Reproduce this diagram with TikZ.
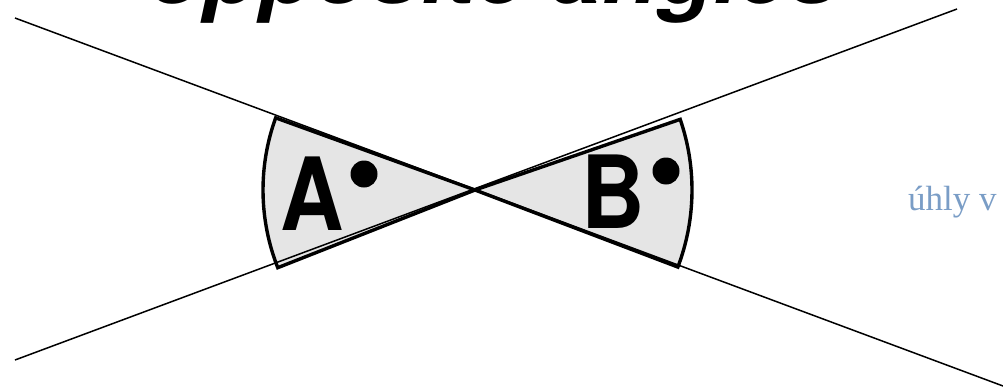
\documentclass[tikz,border=0pt]{standalone}
\usepackage{fontspec}
\usepackage{graphicx}
\usepackage{xcolor}
\usepackage{tikz}
\usetikzlibrary{positioning}
\newfontfamily\herosfont{TeX Gyre Heros}
\newfontfamily\timesfont{Liberation Serif}
\definecolor{sectorGray}{RGB}{229,229,229}
\definecolor{noteBlue}{RGB}{122,157,198}

\begin{document}
\begin{tikzpicture}[
    x=1pt, y=-1pt,
    thinline/.style={line width=1.5pt, black},
    sector/.style={draw=black, line width=3.4pt, fill=sectorGray, line join=miter},
    letter/.style={inner sep=0pt, anchor=base, font=\herosfont\bfseries\fontsize{101}{101}\selectfont},
    dot/.style={circle, fill=black, inner sep=0pt, minimum size=27pt},
    heading/.style={inner sep=0pt, anchor=base, font=\herosfont\bfseries\itshape\fontsize{91}{91}\selectfont},
    note/.style={inner sep=0pt, anchor=base west, text=noteBlue, font=\timesfont\fontsize{35}{35}\selectfont}
]
\useasboundingbox (0,0) rectangle (1003,388);

% Vertex and line ends
\coordinate (O) at (475,190);
\coordinate (lineAstart) at (15,18);
\coordinate (lineAend) at (1003,386);
\coordinate (lineBstart) at (15,360);
\coordinate (lineBend) at (957,9);

% Angle sectors
\draw[sector] (O) -- ++(160.1:212pt) arc[start angle=160.1, end angle=201.5, radius=212pt] -- cycle;
\draw[sector] (O) -- ++(19:217pt) arc[start angle=19, end angle=-20.8, radius=217pt] -- cycle;

% Crossing lines
\draw[thinline] (lineAstart) -- (lineAend);
\draw[thinline] (lineBstart) -- (lineBend);

% Labels
\node[letter] (labA) at (312,230) {\scalebox{0.87}[1]{A}};
\node[letter] (labB) at (613,228) {\scalebox{0.87}[1]{B}};
\node[dot] (dotA) at (364,174) {};
\node[dot] (dotB) at (666,171) {};

% Title, cut by the top edge
\node[heading] (title) at (494,3) {opposite angles};
\node[note] (note) at (908,210) {úhly v};

\end{tikzpicture}
\end{document}
